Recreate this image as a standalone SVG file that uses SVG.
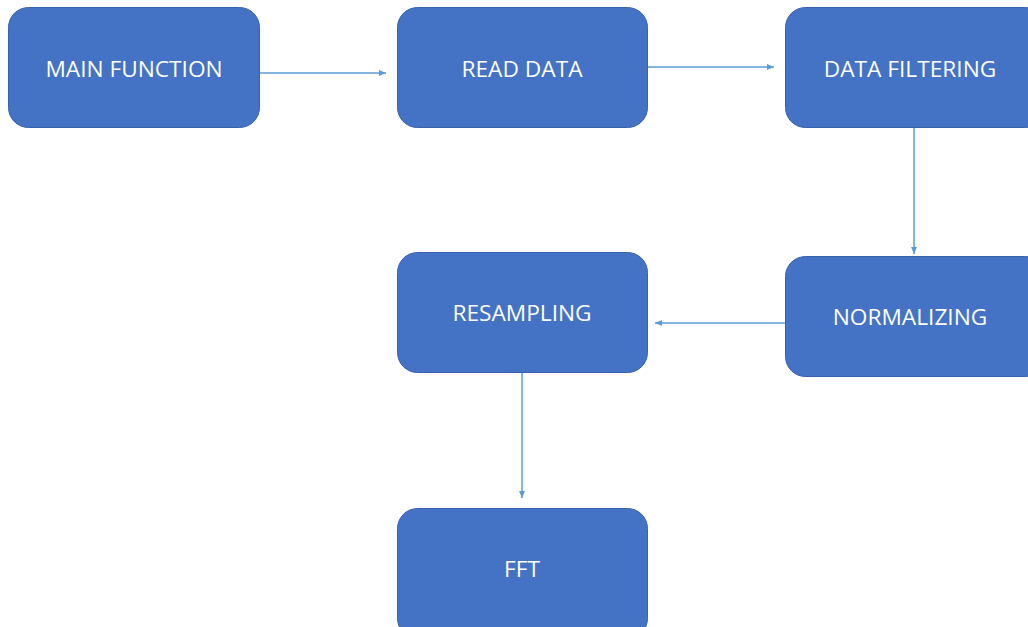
<svg xmlns="http://www.w3.org/2000/svg" width="1028" height="627" viewBox="0 0 1028 627">
<style>
.box{fill:#4472C4;stroke:#3A62AC;stroke-width:1}
.lbl{fill:#FFFFFF;font-family:"Open Sans","Liberation Sans",sans-serif;font-size:22.7px;text-anchor:middle;dominant-baseline:central}
.edge{stroke:#5B9BD5;stroke-width:1.5;fill:none;marker-end:url(#arr)}
</style>
<defs>
<marker id="arr" markerWidth="8" markerHeight="8" refX="7" refY="4" orient="auto" markerUnits="userSpaceOnUse">
<path d="M0,1 L7,4 L0,7 Z" fill="#5B9BD5"/>
</marker>
</defs>
<rect width="1028" height="627" fill="#FFFFFF"/>
<g id="connectors">
<line class="edge" x1="260" y1="73" x2="386" y2="73"/>
<line class="edge" x1="648" y1="67" x2="774" y2="67"/>
<line class="edge" x1="914" y1="128" x2="914" y2="254"/>
<line class="edge" x1="785" y1="323" x2="655" y2="323"/>
<line class="edge" x1="522" y1="372" x2="522" y2="498"/>
</g>
<g id="main-function">
<rect class="box" x="8.5" y="7.5" width="251" height="120" rx="20"/>
<text class="lbl" x="134" y="68">MAIN FUNCTION</text>
</g>
<g id="read-data">
<rect class="box" x="397.5" y="7.5" width="250" height="120" rx="20"/>
<text class="lbl" x="522" y="68">READ DATA</text>
</g>
<g id="data-filtering">
<rect class="box" x="785.5" y="7.5" width="260" height="120" rx="20"/>
<text class="lbl" x="910" y="68">DATA FILTERING</text>
</g>
<g id="normalizing">
<rect class="box" x="785.5" y="256.5" width="260" height="120" rx="20"/>
<text class="lbl" x="910" y="316">NORMALIZING</text>
</g>
<g id="resampling">
<rect class="box" x="397.5" y="252.5" width="250" height="120" rx="20"/>
<text class="lbl" x="522" y="312">RESAMPLING</text>
</g>
<g id="fft">
<rect class="box" x="397.5" y="508.5" width="250" height="130" rx="20"/>
<text class="lbl" x="522" y="568">FFT</text>
</g>
</svg>
